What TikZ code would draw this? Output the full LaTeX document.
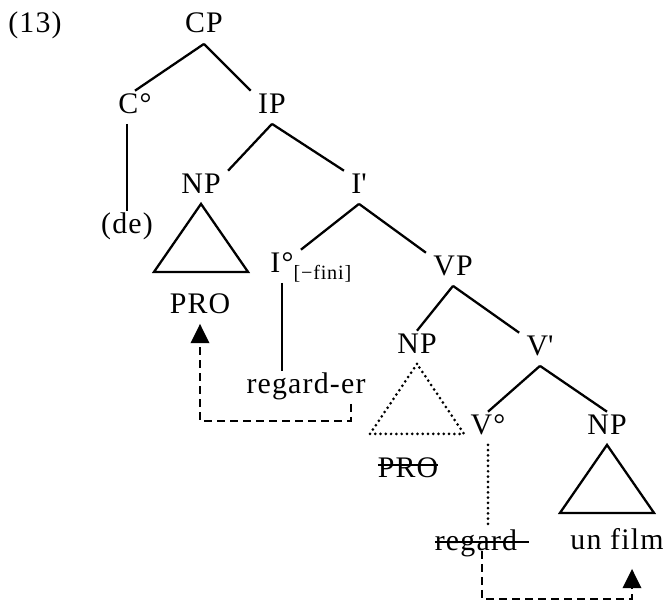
\documentclass[tikz,border=0pt]{standalone}
\usepackage{fontspec}
\setmainfont{Liberation Serif}[LetterSpace=4]
\usetikzlibrary{arrows.meta,calc}
\newcommand{\crossed}[3]{\setbox0\hbox{#3}\rlap{\rule[#1]{\dimexpr\wd0+#2\relax}{1.2pt}}\box0}

\begin{document}
\begin{tikzpicture}[x=0.02cm,y=-0.02cm,
    every node/.style={font=\fontsize{17}{20}\selectfont},
    cat/.style={anchor=base,inner sep=4pt,text height=0.85em,text depth=0.2em},
    branch/.style={line width=1.3pt},
    faded/.style={line width=1.7pt,line cap=round,dash pattern=on 0pt off 3pt},
    trace/.style={line width=1.3pt,dash pattern=on 4.6pt off 2.8pt,-{Triangle[length=11pt,width=10.5pt]}}]
    \useasboundingbox (0,0) rectangle (669,608);
    \node[cat] (ex) at (35,33) {(13)};
    \node[cat] (cp) at (204,33) {CP};
    \node[cat] (c) at (135,113) {C°};
    \node[cat] (ip) at (272,113) {IP};
    \node[cat] (de) at (127,233) {(de)};
    \node[cat] (np1) at (201,193) {NP};
    \node[cat] (ibar) at (359,193) {I\textquotesingle};
    \node[cat] (pro1) at (200,313) {PRO};
    \node[cat] (i0) at (282,272) {I°\rlap{\raisebox{-4.5pt}{\fontsize{11.5}{13}\selectfont[−fini]}}};
    \node[cat] (rege) at (306,393) {regard-er};
    \node[cat] (vp) at (453,275) {VP};
    \node[cat] (np2) at (417,353) {NP};
    \node[cat] (vbar) at (540,355) {V\textquotesingle};
    \node[cat] (pro2) at (408,477) {\crossed{0.36em}{0pt}{PRO}};
    \node[cat] (v0) at (488,434) {V°};
    \node[cat] (np3) at (607,434) {NP};
    \node[cat] (reg) at (476,550) {\crossed{0.24em}{0.4em}{regard}};
    \node[cat] (film) at (617,549) {un film};
    \draw[branch] (cp.south) -- (c.north);
    \draw[branch] (cp.south) -- (ip.north west);
    \draw[branch] (c.south -| de.north) -- (de.north);
    \draw[branch] (ip.south) -- (np1.north east);
    \draw[branch] (ip.south) -- (ibar.north west);
    \draw[branch] (np1.south) -- +(-47,68) -- +(47,68) -- cycle;
    \draw[branch] (ibar.south) -- (i0.north east);
    \draw[branch] (ibar.south) -- (vp.north west);
    \draw[branch] (i0.south) -- (i0.south |- rege.north);
    \draw[branch] (vp.south) -- (np2.north);
    \draw[branch] (vp.south) -- (vbar.north west);
    \draw[faded] (np2.south) -- +(-47,70) -- +(47,70) -- cycle;
    \draw[branch] (vbar.south) -- (v0.north);
    \draw[branch] (vbar.south) -- (np3.north);
    \draw[faded] (v0.south) -- (v0.south |- reg.north);
    \draw[branch] (np3.south) -- +(-47,68) -- +(47,68) -- cycle;
    \draw[trace] (rege.south east) ++(-22,0) -- ++(0,17) -| (pro1.south);
    \draw[trace] (reg.south) ++(6,-10) -- ++(0,48) -| ($(film.south)+(15,9)$);
\end{tikzpicture}
\end{document}
